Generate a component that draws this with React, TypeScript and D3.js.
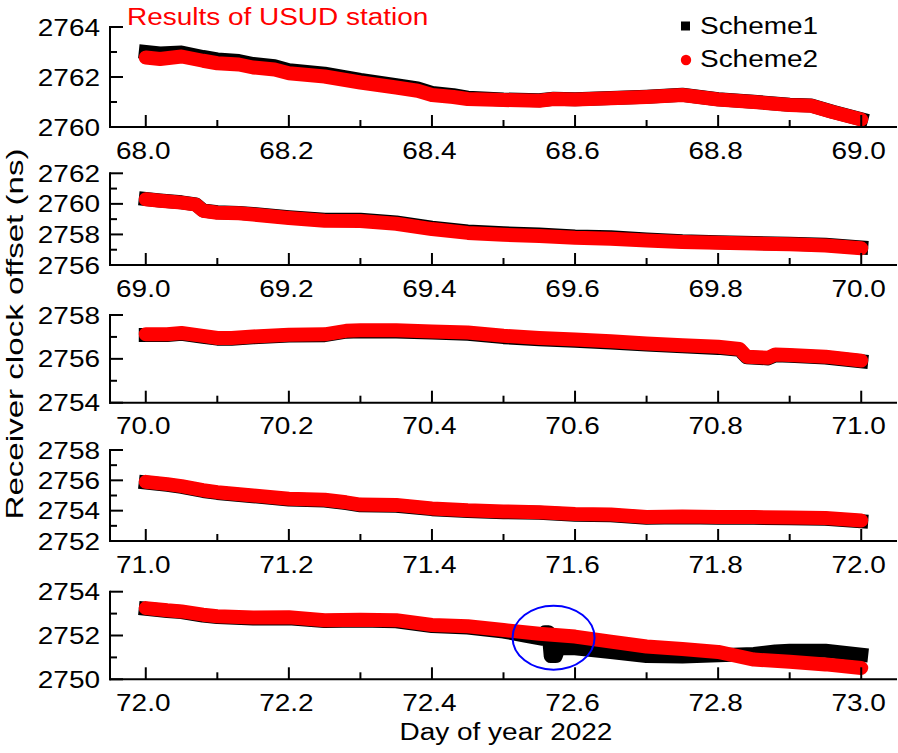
import React from "react";
import * as d3 from "d3";

// ---------- data ----------
const panelStartDays = [68, 69, 70, 71, 72];
const yDomains: [number, number][] = [
  [2760, 2764],
  [2756, 2762],
  [2754, 2758],
  [2752, 2758],
  [2750, 2754],
];
const yMajorTicks = [
  [2760, 2762, 2764],
  [2756, 2758, 2760, 2762],
  [2754, 2756, 2758],
  [2752, 2754, 2756, 2758],
  [2750, 2752, 2754],
];
const xMajorOffsets = [0, 0.2, 0.4, 0.6, 0.8, 1.0];
const xMinorOffsets = [0.1, 0.3, 0.5, 0.7, 0.9];

const seriesNames = ["Scheme1", "Scheme2"];
const titleText = "Results of USUD station";
const xLabel = "Day of year 2022";
const yLabel = "Receiver clock offset (ns)";

// Scheme1 (black) / Scheme2 (red) per day
const s1Day68: [number, number][] = [
  [68.0, 2763.0], [68.02, 2762.94], [68.05, 2762.98], [68.08, 2762.8], [68.1, 2762.7],
  [68.13, 2762.64], [68.15, 2762.52], [68.18, 2762.43], [68.2, 2762.27], [68.25, 2762.13],
  [68.3, 2761.88], [68.35, 2761.67], [68.38, 2761.54], [68.4, 2761.36], [68.43, 2761.27],
  [68.45, 2761.17], [68.5, 2761.1], [68.55, 2761.07], [68.57, 2761.13], [68.6, 2761.11],
  [68.65, 2761.16], [68.7, 2761.21], [68.75, 2761.29], [68.8, 2761.11], [68.85, 2761.01],
  [68.9, 2760.89], [68.93, 2760.86], [68.96, 2760.61], [69.0, 2760.31],
];
const s2Day68: [number, number][] = [
  [68.0, 2762.78], [68.02, 2762.72], [68.05, 2762.82], [68.08, 2762.65], [68.1, 2762.55],
  [68.13, 2762.5], [68.15, 2762.38], [68.18, 2762.3], [68.2, 2762.15], [68.25, 2762.02],
  [68.3, 2761.78], [68.35, 2761.58], [68.38, 2761.45], [68.4, 2761.28], [68.43, 2761.2],
  [68.45, 2761.12], [68.5, 2761.08], [68.55, 2761.05], [68.57, 2761.12], [68.6, 2761.1],
  [68.65, 2761.15], [68.7, 2761.2], [68.75, 2761.28], [68.8, 2761.1], [68.85, 2761.0],
  [68.9, 2760.88], [68.93, 2760.85], [68.96, 2760.6], [69.0, 2760.3],
];
const s1Day69: [number, number][] = [
  [69.0, 2760.32], [69.02, 2760.22], [69.05, 2760.1], [69.07, 2759.97], [69.08, 2759.57],
  [69.1, 2759.45], [69.13, 2759.41], [69.15, 2759.34], [69.2, 2759.13], [69.25, 2758.96],
  [69.3, 2758.96], [69.35, 2758.78], [69.4, 2758.44], [69.45, 2758.19], [69.5, 2758.07],
  [69.55, 2757.99], [69.6, 2757.87], [69.65, 2757.81], [69.7, 2757.67], [69.75, 2757.55],
  [69.8, 2757.49], [69.85, 2757.44], [69.9, 2757.39], [69.95, 2757.32], [70.0, 2757.15],
];
const s2Day69: [number, number][] = [
  [69.0, 2760.3], [69.02, 2760.2], [69.05, 2760.08], [69.07, 2759.95], [69.08, 2759.55],
  [69.1, 2759.42], [69.13, 2759.38], [69.15, 2759.3], [69.2, 2759.08], [69.25, 2758.9],
  [69.3, 2758.88], [69.35, 2758.7], [69.4, 2758.35], [69.45, 2758.1], [69.5, 2757.98],
  [69.55, 2757.9], [69.6, 2757.78], [69.65, 2757.72], [69.7, 2757.6], [69.75, 2757.5],
  [69.8, 2757.45], [69.85, 2757.4], [69.9, 2757.35], [69.95, 2757.28], [70.0, 2757.1],
];
const s1Day70: [number, number][] = [
  [70.0, 2757.09], [70.03, 2757.09], [70.05, 2757.14], [70.08, 2757.01], [70.1, 2756.92],
  [70.12, 2756.92], [70.15, 2756.98], [70.2, 2757.06], [70.25, 2757.08], [70.28, 2757.24],
  [70.3, 2757.26], [70.35, 2757.25], [70.4, 2757.2], [70.45, 2757.14], [70.5, 2756.99],
  [70.55, 2756.89], [70.6, 2756.82], [70.65, 2756.75], [70.7, 2756.65], [70.75, 2756.57],
  [70.8, 2756.5], [70.83, 2756.41], [70.84, 2756.07], [70.87, 2756.02], [70.88, 2756.16],
  [70.9, 2756.14], [70.95, 2756.06], [71.0, 2755.89],
];
const s2Day70: [number, number][] = [
  [70.0, 2757.12], [70.03, 2757.12], [70.05, 2757.18], [70.08, 2757.05], [70.1, 2756.95],
  [70.12, 2756.95], [70.15, 2757.02], [70.2, 2757.1], [70.25, 2757.12], [70.28, 2757.28],
  [70.3, 2757.3], [70.35, 2757.3], [70.4, 2757.25], [70.45, 2757.2], [70.5, 2757.05],
  [70.55, 2756.95], [70.6, 2756.88], [70.65, 2756.8], [70.7, 2756.7], [70.75, 2756.62],
  [70.8, 2756.55], [70.83, 2756.45], [70.84, 2756.1], [70.87, 2756.05], [70.88, 2756.2],
  [70.9, 2756.18], [70.95, 2756.1], [71.0, 2755.92],
];
const s1Day71: [number, number][] = [
  [71.0, 2755.86], [71.03, 2755.7], [71.05, 2755.57], [71.08, 2755.3], [71.1, 2755.17],
  [71.15, 2754.95], [71.2, 2754.73], [71.25, 2754.67], [71.28, 2754.5], [71.3, 2754.35],
  [71.35, 2754.33], [71.4, 2754.1], [71.45, 2753.97], [71.5, 2753.9], [71.55, 2753.86],
  [71.6, 2753.73], [71.65, 2753.7], [71.7, 2753.53], [71.75, 2753.57], [71.8, 2753.53],
  [71.85, 2753.53], [71.9, 2753.5], [71.95, 2753.47], [72.0, 2753.3],
];
const s2Day71: [number, number][] = [
  [71.0, 2755.9], [71.03, 2755.75], [71.05, 2755.62], [71.08, 2755.35], [71.1, 2755.22],
  [71.15, 2755.0], [71.2, 2754.78], [71.25, 2754.72], [71.28, 2754.55], [71.3, 2754.4],
  [71.35, 2754.38], [71.4, 2754.15], [71.45, 2754.02], [71.5, 2753.95], [71.55, 2753.9],
  [71.6, 2753.78], [71.65, 2753.75], [71.7, 2753.58], [71.75, 2753.62], [71.8, 2753.58],
  [71.85, 2753.58], [71.9, 2753.55], [71.95, 2753.52], [72.0, 2753.35],
];
const s1Day72: [number, number][] = [
  [72.0, 2753.22], [72.03, 2753.12], [72.05, 2753.07], [72.08, 2752.91], [72.1, 2752.84],
  [72.15, 2752.78], [72.2, 2752.79], [72.25, 2752.66], [72.3, 2752.68], [72.35, 2752.65],
  [72.4, 2752.43], [72.45, 2752.36], [72.5, 2752.18], [72.53, 2752.0], [72.555, 2751.85],
  [72.558, 2752.15], [72.563, 2752.15], [72.566, 2751.06], [72.573, 2751.06], [72.577, 2751.42],
  [72.6, 2751.42], [72.65, 2751.25], [72.7, 2751.06], [72.75, 2751.04], [72.8, 2751.1],
  [72.85, 2751.16], [72.88, 2751.27], [72.9, 2751.3], [72.95, 2751.3], [73.0, 2751.12],
];
const s2Day72: [number, number][] = [
  [72.0, 2753.25], [72.03, 2753.15], [72.05, 2753.1], [72.08, 2752.95], [72.1, 2752.88],
  [72.15, 2752.82], [72.2, 2752.83], [72.25, 2752.7], [72.3, 2752.72], [72.35, 2752.7],
  [72.4, 2752.48], [72.45, 2752.42], [72.5, 2752.25], [72.55, 2752.08], [72.6, 2751.95],
  [72.65, 2751.72], [72.7, 2751.5], [72.75, 2751.38], [72.8, 2751.25], [72.85, 2750.9],
  [72.9, 2750.8], [72.95, 2750.68], [73.0, 2750.52],
];

const scheme1ByPanel = [s1Day68, s1Day69, s1Day70, s1Day71, s1Day72];
const scheme2ByPanel = [s2Day68, s2Day69, s2Day70, s2Day71, s2Day72];

// highlighted anomaly (day, ns) in the last panel
const highlightPoint: [number, number] = [72.57, 2751.9];

// ---------- layout ----------
const W = 898;
const H = 753;
const FONT = "'Liberation Sans', Arial, Helvetica, sans-serif";
const FS = 23.5;
const SX = 1.19;
const X0 = 110;
const X1 = 897;
const BAND = 14;
const panelBoxes = [
  { top: 27, bottom: 127 },
  { top: 173.3, bottom: 265 },
  { top: 315, bottom: 402.7 },
  { top: 450, bottom: 541 },
  { top: 591.7, bottom: 679.3 },
];

function Txt(props: {
  x: number; y: number; anchor?: string; fill?: string; size?: number; sx?: number; children: any;
}) {
  const { x, y, anchor = "start", fill = "#000", size = FS, sx = SX, children } = props;
  return (
    <text
      transform={`translate(${x},${y}) scale(${sx},1)`}
      textAnchor={anchor}
      fontFamily={FONT}
      fontSize={size}
      fill={fill}
    >
      {children}
    </text>
  );
}

function Panel({ i }: { i: number }) {
  const d0 = panelStartDays[i];
  const box = panelBoxes[i];
  const x = d3.scaleLinear().domain([d0 - 0.05, d0 + 1.05]).range([X0, X1]);
  const y = d3.scaleLinear().domain(yDomains[i]).range([box.bottom, box.top]);
  const line = d3
    .line<[number, number]>()
    .x((d) => x(d[0]))
    .y((d) => y(d[1]));
  const [ya, yb] = yDomains[i];
  const yMinor = d3.range(ya + 1, yb, 2);
  const fmt = d3.format(".1f");
  return (
    <g>
      <path d={line(scheme1ByPanel[i]) || ""} fill="none" stroke="#000" strokeWidth={BAND}
        strokeLinejoin="round" strokeLinecap="square" />
      <path d={line(scheme2ByPanel[i]) || ""} fill="none" stroke="#ff0000" strokeWidth={BAND}
        strokeLinejoin="round" strokeLinecap="round" />
      {/* axes */}
      <line x1={X0} x2={X0} y1={box.top - 1} y2={box.bottom + 1} stroke="#000" strokeWidth={2} />
      <line x1={X0 - 1} x2={X1} y1={box.bottom} y2={box.bottom} stroke="#000" strokeWidth={2} />
      {yMajorTicks[i].map((v) => (
        <g key={"ym" + v}>
          <line x1={X0} x2={X0 + 13} y1={y(v)} y2={y(v)} stroke="#000" strokeWidth={2} />
          <Txt x={100} y={y(v) + 8.5} anchor="end">{String(v)}</Txt>
        </g>
      ))}
      {yMinor.map((v) => (
        <line key={"yn" + v} x1={X0} x2={X0 + 7} y1={y(v)} y2={y(v)} stroke="#000" strokeWidth={2} />
      ))}
      {xMajorOffsets.map((o) => {
        const d = d0 + o;
        return (
          <g key={"xm" + o}>
            <line x1={x(d)} x2={x(d)} y1={box.bottom} y2={box.bottom - 12} stroke="#000" strokeWidth={2} />
            <Txt x={x(d) - 2.5} y={box.bottom + 31.5} anchor="middle">{fmt(d)}</Txt>
          </g>
        );
      })}
      {xMinorOffsets.map((o) => (
        <line key={"xn" + o} x1={x(d0 + o)} x2={x(d0 + o)} y1={box.bottom} y2={box.bottom - 7}
          stroke="#000" strokeWidth={2} />
      ))}
      {i === 4 && (
        <ellipse cx={x(highlightPoint[0])} cy={y(highlightPoint[1])} rx={41} ry={32}
          fill="none" stroke="#0000ff" strokeWidth={2} />
      )}
    </g>
  );
}

export default function App() {
  return (
    <svg width={W} height={H} style={{ display: "block", position: "absolute", left: 0, top: 0, background: "#fff" }}>
      <rect x={0} y={0} width={W} height={H} fill="#fff" />
      {panelStartDays.map((_, i) => (
        <Panel key={i} i={i} />
      ))}
      <Txt x={127} y={25} fill="#ff0000">{titleText}</Txt>
      {/* legend */}
      <rect x={681} y={21.5} width={9} height={9} fill="#000" />
      <Txt x={700} y={34}>{seriesNames[0]}</Txt>
      <circle cx={686} cy={60} r={5.2} fill="#ff0000" />
      <Txt x={700} y={67}>{seriesNames[1]}</Txt>
      {/* axis titles */}
      <Txt x={506} y={740} anchor="middle">{xLabel}</Txt>
      <text
        transform={`translate(23,334) rotate(-90) scale(1.38,1)`}
        textAnchor="middle"
        fontFamily={FONT}
        fontSize={24}
        fill="#000"
      >
        {yLabel}
      </text>
    </svg>
  );
}
